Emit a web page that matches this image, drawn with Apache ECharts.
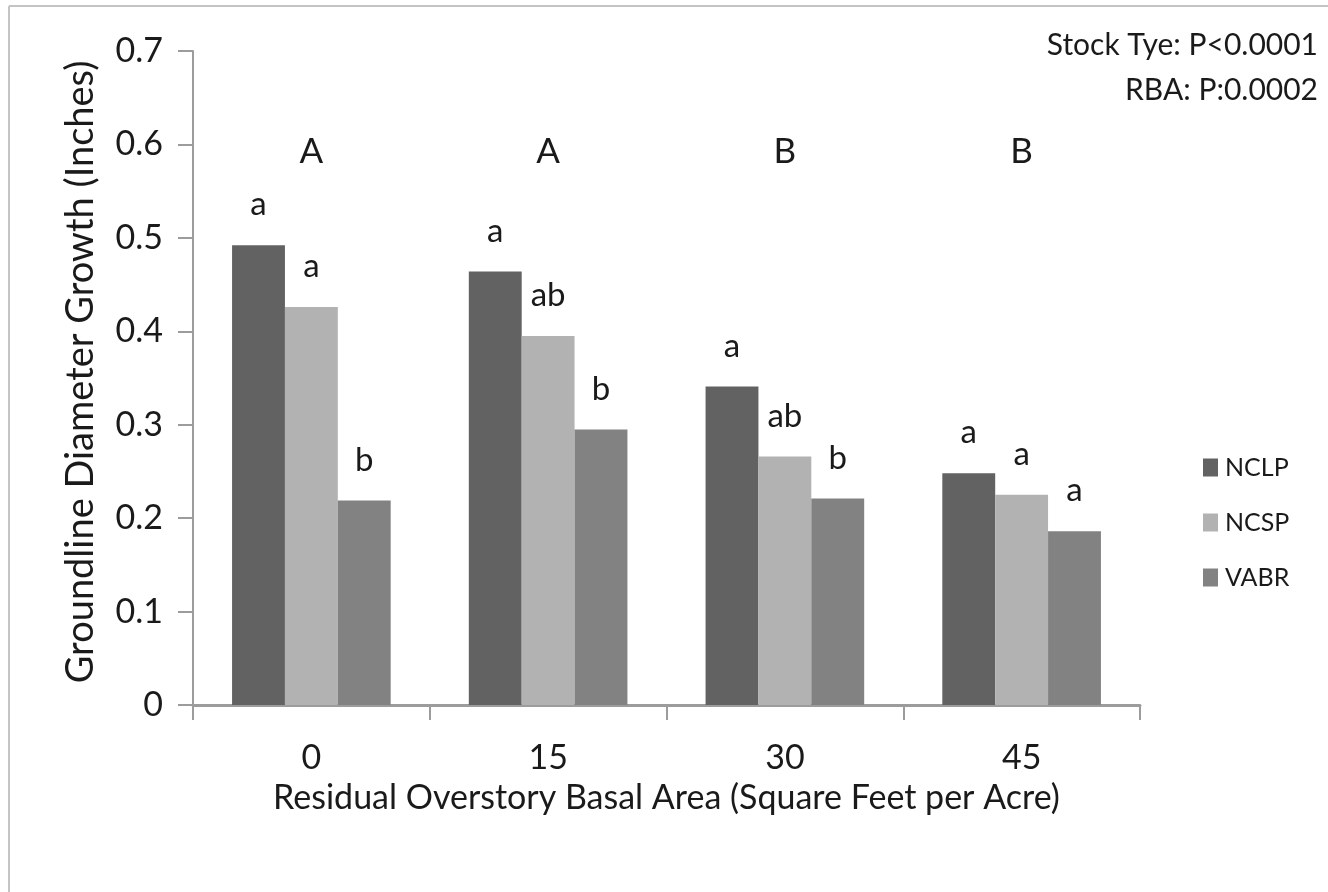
<!DOCTYPE html>
<html>
<head>
<meta charset="utf-8">
<title>Groundline Diameter Growth</title>
<script src="https://cdn.jsdelivr.net/npm/echarts@6/dist/echarts.min.js"></script>
<style>
  html, body { margin: 0; padding: 0; background: #ffffff; }
  #chart { width: 1328px; height: 892px; }
</style>
</head>
<body>
<div id="chart"></div>
<script>
// Residual overstory basal area classes (sq ft per acre)
const categories = ['0', '15', '30', '45'];

// Mean groundline diameter growth (inches) by stock type
const seriesNames = ['NCLP', 'NCSP', 'VABR'];
const nclp = [0.492, 0.464, 0.341, 0.248];
const ncsp = [0.426, 0.395, 0.266, 0.225];
const vabr = [0.219, 0.295, 0.221, 0.186];

// Mean-separation letters within each basal-area class
const nclpLetters = ['a', 'a', 'a', 'a'];
const ncspLetters = ['a', 'ab', 'ab', 'a'];
const vabrLetters = ['b', 'b', 'b', 'a'];

// Letters comparing basal-area classes
const groupLetters = ['A', 'A', 'B', 'B'];

// Y-axis range
const yMin = 0;
const yMax = 0.7;
const yStep = 0.1;

// Statistics notes
const notes = ['Stock Tye: P<0.0001', 'RBA: P:0.0002'];

const colors = ['#626262', '#b2b2b2', '#828282'];
const FONT = 'Lato, "Open Sans", sans-serif';
const TEXT = '#1a1a1a';
const AXIS = '#9c9c9c';
const GROUP_LETTER_Y = 0.592;

function barSeries(name, values, letters, color, extra) {
  return Object.assign({
    name: name,
    type: 'bar',
    data: values,
    barGap: '0%',
    barCategoryGap: '33%',
    itemStyle: { color: color },
    label: {
      show: true,
      position: 'top',
      distance: 24,
      fontFamily: FONT,
      fontSize: 33,
      color: TEXT,
      formatter: function (p) { return letters[p.dataIndex]; }
    }
  }, extra || {});
}

const chart = echarts.init(document.getElementById('chart'), null, { renderer: 'canvas' });

chart.setOption({
  animation: false,
  backgroundColor: '#ffffff',
  grid: { left: 193, right: 188, top: 51, bottom: 187, containLabel: false },
  legend: {
    data: seriesNames,
    orient: 'vertical',
    left: 1198,
    top: 450,
    itemWidth: 15,
    itemHeight: 18,
    itemGap: 30,
    icon: 'rect',
    textStyle: { fontFamily: FONT, fontSize: 25, color: TEXT, padding: [0, 0, 0, 2] }
  },
  xAxis: {
    type: 'category',
    data: categories,
    name: 'Residual Overstory Basal Area (Square Feet per Acre)',
    nameLocation: 'middle',
    nameGap: 76,
    nameTextStyle: { fontFamily: FONT, fontSize: 34, color: TEXT },
    axisLine: { lineStyle: { color: AXIS, width: 3 } },
    axisTick: { show: true, alignWithLabel: false, length: 15, lineStyle: { color: AXIS, width: 2 } },
    axisLabel: { margin: 36, fontFamily: FONT, fontSize: 34, color: TEXT },
    splitLine: { show: false }
  },
  yAxis: {
    type: 'value',
    min: yMin,
    max: yMax,
    interval: yStep,
    name: 'Groundline Diameter Growth (Inches)',
    nameLocation: 'middle',
    nameGap: 93,
    nameRotate: 90,
    nameTextStyle: { fontFamily: FONT, fontSize: 38, color: TEXT, padding: [0, 0, 0, 12] },
    axisLine: { show: true, lineStyle: { color: AXIS, width: 2 } },
    axisTick: { show: true, length: 15, lineStyle: { color: AXIS, width: 2 } },
    axisLabel: {
      margin: 30,
      fontFamily: FONT,
      fontSize: 34,
      color: TEXT,
      formatter: function (v) { return v === 0 ? '0' : v.toFixed(1); }
    },
    splitLine: { show: false }
  },
  series: [
    barSeries(seriesNames[0], nclp, nclpLetters, colors[0]),
    barSeries(seriesNames[1], ncsp, ncspLetters, colors[1], {
      markPoint: {
        symbol: 'rect',
        symbolSize: 1,
        itemStyle: { color: 'rgba(0,0,0,0)' },
        label: {
          show: true,
          position: 'inside',
          fontFamily: FONT,
          fontSize: 35,
          color: TEXT,
          formatter: function (p) { return p.name; }
        },
        data: groupLetters.map(function (g, i) {
          return { name: g, coord: [i, GROUP_LETTER_Y] };
        })
      }
    }),
    barSeries(seriesNames[2], vabr, vabrLetters, colors[2])
  ],
  graphic: [
    {
      type: 'line',
      shape: { x1: 9, y1: 6, x2: 1328, y2: 6 },
      style: { stroke: '#c4c4c4', lineWidth: 2 }
    },
    {
      type: 'line',
      shape: { x1: 9, y1: 6, x2: 9, y2: 892 },
      style: { stroke: '#c4c4c4', lineWidth: 2 }
    },
    {
      type: 'text',
      right: 10,
      top: 23,
      style: {
        text: notes.join('\n'),
        fontFamily: FONT,
        fontSize: 30,
        lineHeight: 45,
        fill: TEXT,
        textAlign: 'right'
      }
    }
  ]
});
</script>
</body>
</html>
